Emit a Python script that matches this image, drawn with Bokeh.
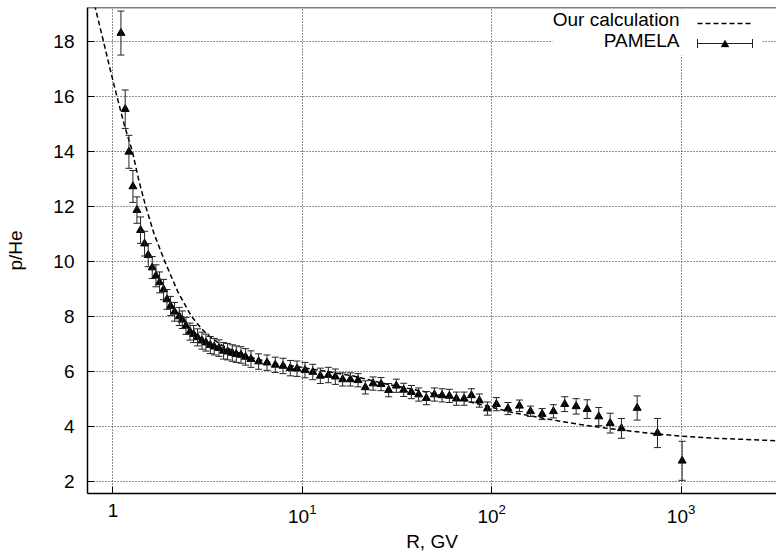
from bokeh.plotting import figure
from bokeh.models import (ColumnDataSource, Whisker, TeeHead, FixedTicker, LogTickFormatter,
                          Label, Arrow, BoxAnnotation, PolyAnnotation, Range1d, Span)
from bokeh.embed import file_html
from bokeh.resources import INLINE

# "Our calculation" curve
calc_R = [0.80, 0.892, 0.97, 1.05, 1.15, 1.267, 1.37, 1.49, 1.65, 1.88, 2.2, 2.6, 2.9, 3.2,
          3.7, 4.3, 5.3, 7.0, 9.8, 14.0, 18.4, 27.4, 47.5, 87.0, 130.0, 204.0, 294.0, 398.0,
          662.0, 995.0, 1524.0, 3190.0]
calc_ratio = [19.33, 18.0, 16.95, 16.0, 14.95, 14.0, 12.95, 12.0, 11.0, 10.0, 8.9, 8.0, 7.6, 7.3,
              6.98, 6.75, 6.52, 6.30, 6.15, 5.98, 5.84, 5.55, 5.22, 4.80, 4.50, 4.25, 4.07, 3.94,
              3.76, 3.65, 3.57, 3.48]

# PAMELA data
pam_R = [1.102, 1.161, 1.215, 1.275, 1.339, 1.399, 1.469, 1.536, 1.613, 1.687, 1.763, 1.851,
         1.929, 2.015, 2.116, 2.240, 2.323, 2.430, 2.551, 2.666, 2.799, 2.953, 3.099, 3.266,
         3.428, 3.631, 3.840, 4.031, 4.267, 4.480, 4.746, 5.018, 5.358, 5.877, 6.510, 7.200,
         7.907, 8.643, 9.376, 10.33, 11.36, 12.45, 13.72, 14.94, 16.33, 17.93, 19.69, 21.52,
         23.63, 26.05, 28.57, 31.37, 34.29, 37.65, 41.16, 45.19, 49.81, 54.70, 59.78, 65.10,
         71.49, 78.15, 86.10, 94.9, 105.9, 121.8, 140.1, 160.2, 184.6, 211.8, 243.0, 279.2,
         319.2, 367.6, 422.2, 484.3, 586.3, 750.6, 1013.0]
pam_ratio = [18.31, 15.54, 13.99, 12.73, 11.87, 11.14, 10.65, 10.23, 9.78, 9.48, 9.24, 8.98,
             8.62, 8.38, 8.17, 8.00, 7.88, 7.66, 7.45, 7.36, 7.24, 7.12, 7.05, 6.96,
             6.90, 6.85, 6.75, 6.72, 6.67, 6.63, 6.60, 6.53, 6.45, 6.36, 6.32, 6.24,
             6.20, 6.12, 6.10, 6.05, 5.98, 5.84, 5.87, 5.81, 5.71, 5.71, 5.68, 5.42,
             5.56, 5.54, 5.32, 5.48, 5.33, 5.25, 5.16, 5.03, 5.16, 5.13, 5.11, 5.01,
             5.01, 5.13, 4.94, 4.65, 4.81, 4.65, 4.75, 4.55, 4.45, 4.55, 4.81, 4.73,
             4.63, 4.36, 4.12, 3.93, 4.67, 3.76, 2.75]
pam_err = [0.80, 0.70, 0.60, 0.58, 0.48, 0.48, 0.45, 0.42, 0.40, 0.40, 0.38, 0.37,
           0.36, 0.35, 0.34, 0.33, 0.32, 0.31, 0.31, 0.31, 0.31, 0.31, 0.31, 0.31,
           0.30, 0.30, 0.30, 0.30, 0.30, 0.30, 0.30, 0.30, 0.30, 0.28, 0.28, 0.28,
           0.28, 0.28, 0.28, 0.28, 0.28, 0.28, 0.28, 0.28, 0.24, 0.24, 0.24, 0.24,
           0.24, 0.24, 0.24, 0.24, 0.24, 0.24, 0.24, 0.24, 0.24, 0.24, 0.24, 0.24,
           0.24, 0.24, 0.24, 0.24, 0.24, 0.22, 0.21, 0.19, 0.20, 0.24, 0.27, 0.28,
           0.34, 0.33, 0.36, 0.36, 0.44, 0.53, 0.71]

x_ticks = [1, 10, 100, 1000]
y_ticks = [2, 4, 6, 8, 10, 12, 14, 16, 18]
y_top = 19.24

FONT = "Liberation Sans"
FS = "19px"
BAR = "#222222"

p = figure(width=776, height=556, x_axis_type="log",
           x_range=Range1d(0.734, 3190), y_range=Range1d(1.56, y_top),
           output_backend="svg", toolbar_location=None,
           min_border_left=87, min_border_right=0, min_border_top=7, min_border_bottom=63)
p.background_fill_color = "white"
p.border_fill_color = "white"
p.outline_line_color = None

p.xaxis.ticker = FixedTicker(ticks=x_ticks)
p.xaxis.formatter = LogTickFormatter()
p.xaxis.major_label_overrides = {1: "1"}
p.yaxis.ticker = FixedTicker(ticks=y_ticks)
for ax in (p.xaxis, p.yaxis):
    ax.major_tick_in = 7
    ax.major_tick_out = 0
    ax.minor_tick_line_color = None
    ax.axis_line_width = 1.5
    ax.axis_line_color = "black"
    ax.major_tick_line_color = "black"
    ax.major_label_text_font = FONT
    ax.major_label_text_font_size = FS
    ax.major_label_text_color = "black"
    ax.axis_label_text_font = FONT
    ax.axis_label_text_font_size = FS
    ax.axis_label_text_font_style = "normal"
    ax.axis_label_text_color = "black"
p.xaxis.axis_label = "R, GV"
p.yaxis.axis_label = "p/He"
p.xaxis.major_label_standoff = 10
p.xaxis.axis_label_standoff = 5
p.yaxis.major_label_standoff = 13
p.yaxis.axis_label_standoff = 24

p.add_layout(Span(location=y_top, dimension="width", line_color="black", line_width=1.5))

for g in (p.xgrid, p.ygrid):
    g.grid_line_color = "#222222"
    g.grid_line_dash = "1 2"
    g.grid_line_width = 1
p.xgrid.ticker = FixedTicker(ticks=x_ticks)
p.ygrid.ticker = FixedTicker(ticks=y_ticks)

calc_src = ColumnDataSource(dict(x=calc_R, y=calc_ratio))
p.line("x", "y", source=calc_src, line_color="black", line_width=1.5, line_dash="5 3")

pam_src = ColumnDataSource(dict(
    x=pam_R, y=pam_ratio,
    lo=[v - e for v, e in zip(pam_ratio, pam_err)],
    hi=[v + e for v, e in zip(pam_ratio, pam_err)]))
wh = Whisker(source=pam_src, base="x", lower="lo", upper="hi", dimension="height",
             line_color=BAR, line_width=1,
             lower_head=TeeHead(size=7, line_color=BAR, line_width=1),
             upper_head=TeeHead(size=7, line_color=BAR, line_width=1))
wh.level = "glyph"
p.add_layout(wh)
p.scatter("x", "y", source=pam_src, marker="triangle", size=8, color="black")

# gnuplot-style key (label text left, sample right); screen units are frame-relative
key_box = BoxAnnotation(left=465, right=675, top=484, bottom=438,
                        left_units="screen", right_units="screen",
                        top_units="screen", bottom_units="screen",
                        fill_color="white", fill_alpha=1.0, line_color=None)
p.add_layout(key_box)
p.add_layout(Label(x=592, y=474, x_units="screen", y_units="screen",
                   text="Our calculation", text_align="right", text_baseline="middle",
                   text_font=FONT, text_font_size=FS, text_color="black"))
p.add_layout(Label(x=592, y=453, x_units="screen", y_units="screen",
                   text="PAMELA", text_align="right", text_baseline="middle",
                   text_font=FONT, text_font_size=FS, text_color="black"))
p.add_layout(Arrow(x_start=610, y_start=470, x_end=665, y_end=470,
                   start_units="screen", end_units="screen", end=None,
                   line_color="black", line_width=1.5, line_dash="5 3"))
p.add_layout(Arrow(x_start=610, y_start=450, x_end=665, y_end=450,
                   start_units="screen", end_units="screen",
                   start=TeeHead(size=9, line_color=BAR, line_width=1),
                   end=TeeHead(size=9, line_color=BAR, line_width=1),
                   line_color=BAR, line_width=1))
p.add_layout(PolyAnnotation(xs=[633.5, 641.5, 637.5], ys=[446.5, 446.5, 453.5],
                            xs_units="screen", ys_units="screen",
                            fill_color="black", fill_alpha=1.0, line_color="black"))

open("out.html", "w").write(file_html(p, INLINE))
